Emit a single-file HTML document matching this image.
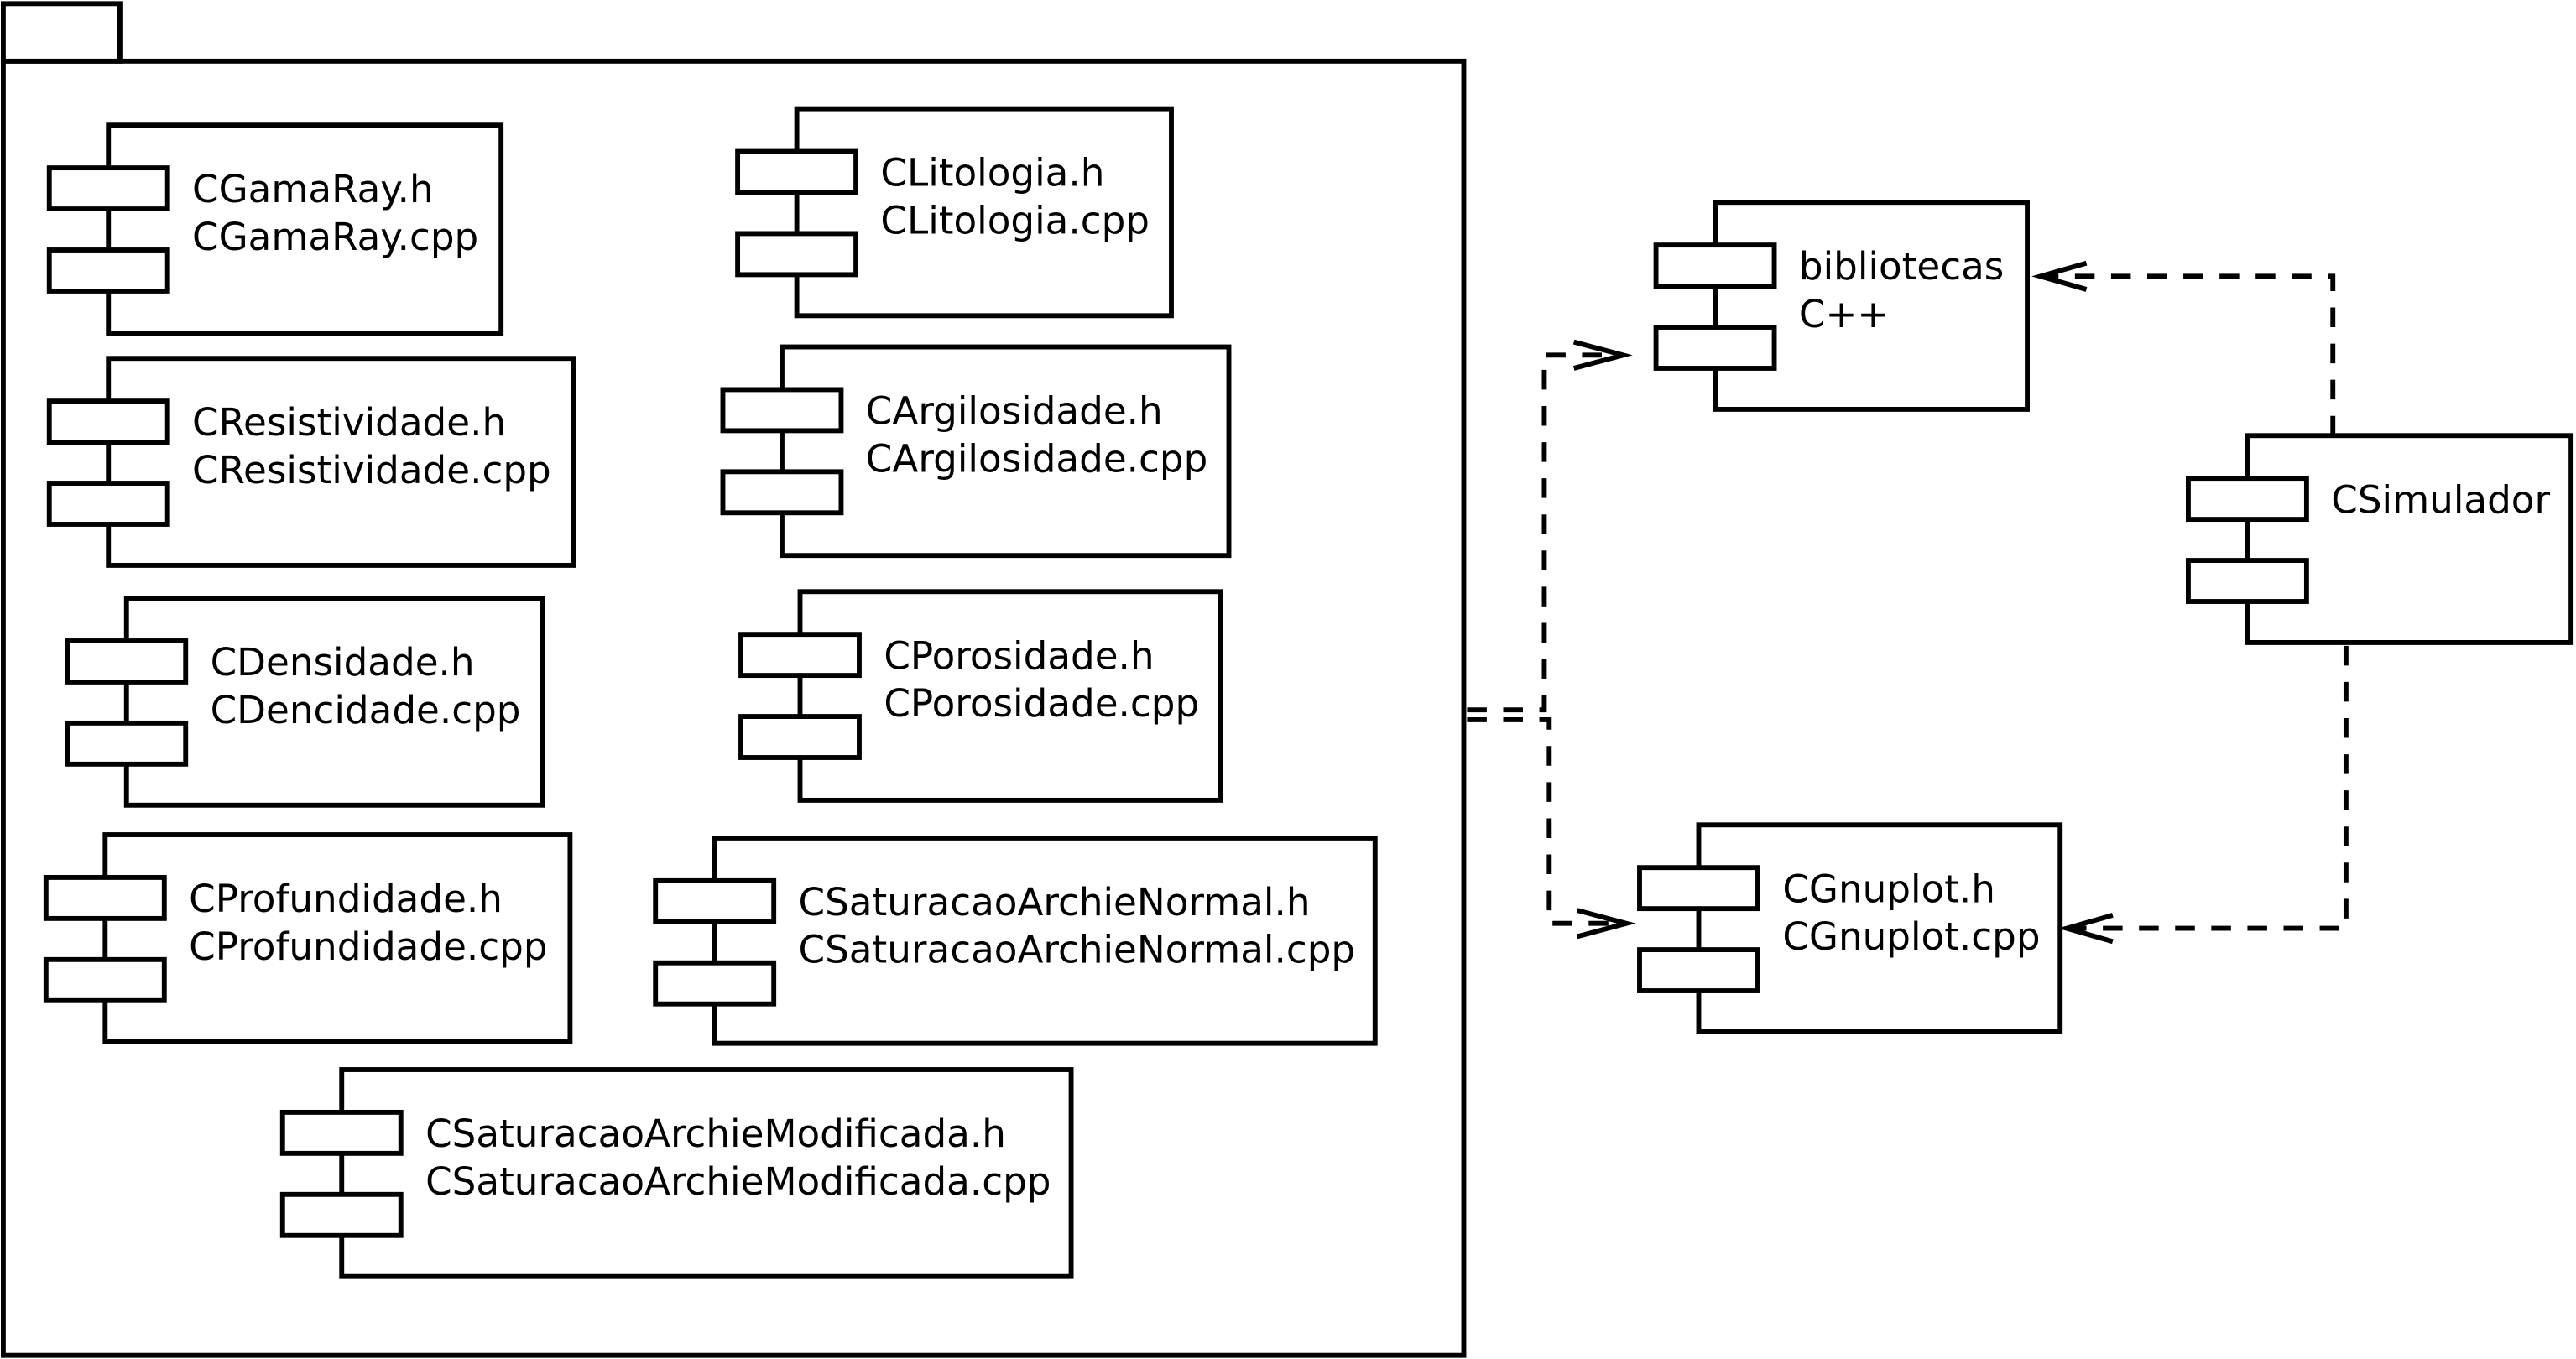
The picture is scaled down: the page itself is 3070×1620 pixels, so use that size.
<!DOCTYPE html>
<html><head><meta charset="utf-8"><style>
html,body{margin:0;padding:0;background:#fff;}
svg{display:block;}
text{font-family:"DejaVu Sans","Liberation Sans",sans-serif;font-size:23.1px;fill:#000;}
</style></head><body>
<svg width="3070" height="1620" viewBox="0 0 1568 827" xmlns="http://www.w3.org/2000/svg">
<g fill="#fff" stroke="#000" stroke-width="3">
<rect x="2" y="37" width="889" height="788"/>
<rect x="2" y="2" width="71" height="35"/>
</g>
<g id="comps" fill="#fff" stroke="#000" stroke-width="3"></g>
<g fill="none" stroke="#000" stroke-width="3" stroke-dasharray="12,10">
<path d="M893 432 H940 V216 H985"/>
<path d="M893 438 H943 V562 H988"/>
<path d="M1420 265 V168 H1245"/>
<path d="M1428 393 V565 H1262"/>
</g>
<g fill="none" stroke="#000" stroke-width="3">
<path d="M958 208 L988 216 L958 224"/>
<path d="M960 554 L990 562 L960 570"/>
<path d="M1270 160 L1242 168 L1270 176"/>
<path d="M1286 557 L1258 565 L1286 573"/>
</g>
<script>
const C=[[66,76,239,127,"CGamaRay.h","CGamaRay.cpp"],[485,66,228,126,"CLitologia.h","CLitologia.cpp"],
[66,218,283,126,"CResistividade.h","CResistividade.cpp"],[476,211,272,127,"CArgilosidade.h","CArgilosidade.cpp"],
[77,364,253,126,"CDensidade.h","CDencidade.cpp"],[487,360,256,127,"CPorosidade.h","CPorosidade.cpp"],
[64,508,283,126,"CProfundidade.h","CProfundidade.cpp"],[435,510,402,125,"CSaturacaoArchieNormal.h","CSaturacaoArchieNormal.cpp"],
[208,651,444,126,"CSaturacaoArchieModificada.h","CSaturacaoArchieModificada.cpp"],
[1044,123,190,126,"bibliotecas","C++"],[1368,265,197,126,"CSimulador",""],[1034,502,220,126,"CGnuplot.h","CGnuplot.cpp"]];
const ns="http://www.w3.org/2000/svg",g=document.getElementById("comps"),s=g.ownerSVGElement;
function r(x,y,w,h){const e=document.createElementNS(ns,"rect");e.setAttribute("x",x);e.setAttribute("y",y);e.setAttribute("width",w);e.setAttribute("height",h);g.appendChild(e);}
function t(x,y,s2){const e=document.createElementNS(ns,"text");e.setAttribute("x",x);e.setAttribute("y",y);e.textContent=s2;s.appendChild(e);}
for(const [x,y,w,h,a,b] of C){r(x,y,w,h);r(x-36,y+26,72,25);r(x-36,y+76,72,25);t(x+51,y+47,a);if(b)t(x+51,y+76,b);}
</script>
</svg>
</body></html>
